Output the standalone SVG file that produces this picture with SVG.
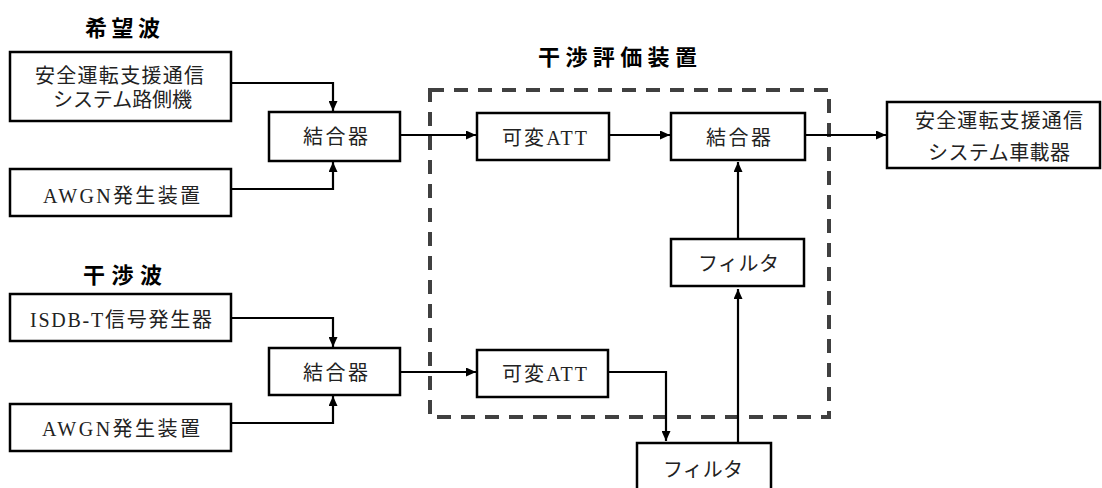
<svg xmlns="http://www.w3.org/2000/svg" width="1102" height="488" viewBox="0 0 1102 488">
<style>
  .box { fill: #fff; stroke: #000; stroke-width: 2.5; }
  .lbl { font-family: "Liberation Serif", "Noto Sans CJK JP", serif; font-size: 20px; fill: #222; dominant-baseline: central; }
  .ttl { font-family: "Noto Sans CJK JP", sans-serif; font-size: 22px; font-weight: bold; fill: #000; dominant-baseline: central; }
  .con { fill: none; stroke: #000; stroke-width: 2.2; }
  .arr { marker-end: url(#ah); }
  .dash { fill: none; stroke: #404040; stroke-width: 4; stroke-dasharray: 14 10; }
</style>
<defs>
  <marker id="ah" markerUnits="userSpaceOnUse" markerWidth="10" markerHeight="9" refX="10" refY="4.5" orient="auto">
    <path d="M0,0 L10,4.5 L0,9 z" fill="#000"/>
  </marker>
</defs>
<rect width="1102" height="488" fill="#fff"/>

<g id="titles">
  <text class="ttl" x="85" y="26" textLength="75" lengthAdjust="spacing">希望波</text>
  <text class="ttl" x="538" y="55" textLength="159" lengthAdjust="spacing">干渉評価装置</text>
  <text class="ttl" x="83" y="273" textLength="79" lengthAdjust="spacing">干渉波</text>
</g>

<g id="eval-frame">
  <rect class="dash" x="430" y="90" width="399" height="327"/>
</g>

<g id="connectors">
  <path class="con arr" d="M231,83 H333 V111"/>
  <path class="con arr" d="M231,189 H333 V162"/>
  <path class="con arr" d="M400,135 H476"/>
  <path class="con arr" d="M609,135 H670"/>
  <path class="con arr" d="M805,135 H886"/>
  <path class="con arr" d="M231,318 H333 V347"/>
  <path class="con arr" d="M231,423 H333 V396"/>
  <path class="con arr" d="M400,372 H476"/>
  <path class="con arr" d="M608,372 H666 V441"/>
  <path class="con arr" d="M738,443 V289"/>
  <path class="con arr" d="M738,239 V162"/>
</g>

<g id="roadside">
  <rect class="box" x="10" y="52" width="221" height="69"/>
  <text class="lbl" x="35" y="76" textLength="169" lengthAdjust="spacing">安全運転支援通信</text>
  <text class="lbl" x="53" y="100" textLength="139" lengthAdjust="spacing">システム路側機</text>
</g>
<g id="awgn1">
  <rect class="box" x="10" y="169" width="221" height="47"/>
  <text class="lbl" x="43" y="196" textLength="157" lengthAdjust="spacing">AWGN発生装置</text>
</g>
<g id="comb1">
  <rect class="box" x="269" y="112" width="131" height="49"/>
  <text class="lbl" x="303" y="137" textLength="65" lengthAdjust="spacing">結合器</text>
</g>
<g id="isdbt">
  <rect class="box" x="10" y="294" width="221" height="47"/>
  <text class="lbl" x="30" y="320" textLength="182" lengthAdjust="spacing">ISDB-T信号発生器</text>
</g>
<g id="awgn2">
  <rect class="box" x="10" y="404" width="221" height="47"/>
  <text class="lbl" x="42" y="429" textLength="158" lengthAdjust="spacing">AWGN発生装置</text>
</g>
<g id="comb3">
  <rect class="box" x="269" y="348" width="131" height="47"/>
  <text class="lbl" x="303" y="373" textLength="65" lengthAdjust="spacing">結合器</text>
</g>
<g id="att1">
  <rect class="box" x="477" y="113" width="132" height="47"/>
  <text class="lbl" x="502" y="138" textLength="85" lengthAdjust="spacing">可変ATT</text>
</g>
<g id="comb2">
  <rect class="box" x="671" y="113" width="134" height="47"/>
  <text class="lbl" x="706" y="138" textLength="65" lengthAdjust="spacing">結合器</text>
</g>
<g id="filter1">
  <rect class="box" x="671" y="239" width="133" height="47"/>
  <text class="lbl" x="698" y="264" textLength="81" lengthAdjust="spacing">フィルタ</text>
</g>
<g id="att2">
  <rect class="box" x="477" y="350" width="131" height="47"/>
  <text class="lbl" x="502" y="374" textLength="85" lengthAdjust="spacing">可変ATT</text>
</g>
<g id="filter2">
  <rect class="box" x="637" y="443" width="134" height="50"/>
  <text class="lbl" x="663" y="470" textLength="80" lengthAdjust="spacing">フィルタ</text>
</g>
<g id="onboard">
  <rect class="box" x="887" y="102" width="213" height="66"/>
  <text class="lbl" x="915" y="121" textLength="168" lengthAdjust="spacing">安全運転支援通信</text>
  <text class="lbl" x="928" y="153" textLength="142" lengthAdjust="spacing">システム車載器</text>
</g>
</svg>
